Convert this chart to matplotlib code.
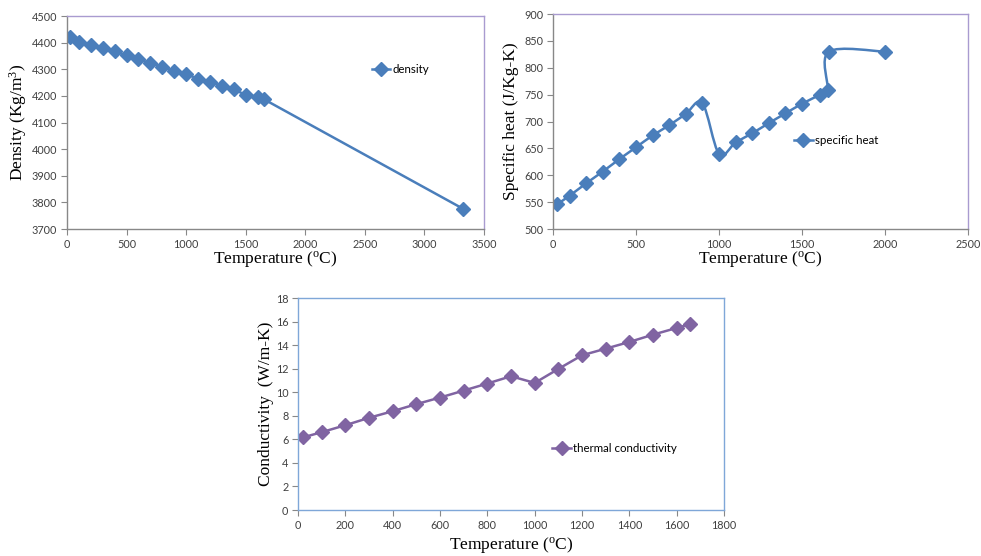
import numpy as np
import matplotlib.pyplot as plt
from matplotlib.path import Path
from matplotlib.patches import PathPatch
from matplotlib.lines import Line2D

plt.rcParams['mathtext.fontset'] = 'custom'
plt.rcParams['mathtext.rm'] = 'Liberation Serif'
plt.rcParams['mathtext.it'] = 'Liberation Serif:italic'

# density
dens_T = [25, 100, 200, 300, 400, 500, 600, 700, 800, 900, 1000, 1100, 1200,
          1300, 1400, 1500, 1600, 1650, 3320]
dens_v = [4421, 4403, 4393, 4380, 4367, 4352, 4337, 4323, 4309, 4293, 4282,
          4264, 4252, 4238, 4224, 4204, 4196, 4188, 3777]

# specific heat
cp_T = [25, 100, 200, 300, 400, 500, 600, 700, 800, 900, 1000, 1100, 1200,
        1300, 1400, 1500, 1610, 1655, 1662, 2000]
cp_v = [546, 562, 585, 607, 630, 652, 674, 693, 714, 734, 640, 661, 678,
        697, 715, 733, 750, 758, 830, 830]

# thermal conductivity
k_T = [20, 100, 200, 300, 400, 500, 600, 700, 800, 900, 1000, 1100, 1200,
       1300, 1400, 1500, 1600, 1655]
k_v = [6.16, 6.61, 7.2, 7.83, 8.39, 8.99, 9.55, 10.14, 10.74, 11.36, 10.79,
       11.98, 13.14, 13.7, 14.27, 14.89, 15.46, 15.77]

BLUE = '#4A7EBB'
PURPLE = '#8064A2'
FRAME_P = '#A99BD0'
FRAME_B = '#7FA7D8'
GRAY = '#888888'
TICKC = '#404040'
serif = 'Liberation Serif'
tfont = 'Lato'
xlab = 'Temperature ($\\mathrm{^{o}}$C)'
MS = 7.3


def smooth_path(x, y):
    # excel style smoothed line: bezier segments through the points
    x = np.asarray(x, float)
    y = np.asarray(y, float)
    p = np.column_stack([x, y])
    n = len(p)
    verts = [p[0]]
    codes = [Path.MOVETO]
    for i in range(n - 1):
        p0 = p[i - 1] if i > 0 else p[i]
        p3 = p[i + 2] if i + 2 < n else p[i + 1]
        c1 = p[i] + (p[i + 1] - p0) / 6.0
        c2 = p[i + 1] - (p3 - p[i]) / 6.0
        verts += [c1, c2, p[i + 1]]
        codes += [Path.CURVE4] * 3
    return Path(verts, codes)


def style(ax, frame, left_bottom):
    for s in ['top', 'right']:
        ax.spines[s].set_color(frame)
    for s in ['left', 'bottom']:
        ax.spines[s].set_color(left_bottom)
    for s in ax.spines.values():
        s.set_linewidth(1.0)
    ax.tick_params(direction='out', length=4, width=0.8, color=GRAY,
                   labelsize=7.8, labelcolor=TICKC, pad=3)
    for lab in ax.get_xticklabels() + ax.get_yticklabels():
        lab.set_fontfamily(tfont)


fig = plt.figure(figsize=(9.81, 5.56), dpi=100)

# --- density ---
ax1 = fig.add_axes([0.0683, 0.5881, 0.4251, 0.3831])
ax1.plot(dens_T, dens_v, color=BLUE, lw=1.8, marker='D', ms=MS,
         mfc=BLUE, mec=BLUE, label='density')
ax1.set_xlim(0, 3500)
ax1.set_ylim(3700, 4500)
ax1.set_xticks(np.arange(0, 3501, 500))
ax1.set_yticks(np.arange(3700, 4501, 100))
style(ax1, FRAME_P, GRAY)
ax1.set_xlabel(xlab, fontfamily=serif, fontsize=12.5, labelpad=-0.5)
ax1.set_ylabel('Density (Kg/m$\\mathrm{^3}$)', fontfamily=serif,
               fontsize=12.5, labelpad=2)
ax1.legend(loc='upper left', bbox_to_anchor=(0.72, 0.795), frameon=False,
           prop={'family': tfont, 'size': 8.3}, handlelength=1.6,
           handletextpad=0.2, borderaxespad=0)

# --- specific heat ---
ax2 = fig.add_axes([0.5637, 0.5881, 0.4230, 0.3867])
ax2.add_patch(PathPatch(smooth_path(cp_T, cp_v), fc='none', ec=BLUE, lw=1.8,
                        capstyle='round', joinstyle='round'))
ax2.plot(cp_T, cp_v, ls='none', marker='D', ms=MS, mfc=BLUE, mec=BLUE)
ax2.set_xlim(0, 2500)
ax2.set_ylim(500, 900)
ax2.set_xticks(np.arange(0, 2501, 500))
ax2.set_yticks(np.arange(500, 901, 50))
style(ax2, FRAME_P, GRAY)
ax2.set_xlabel(xlab, fontfamily=serif, fontsize=12.5, labelpad=-0.5)
ax2.set_ylabel('Specific heat (J/Kg-K)', fontfamily=serif, fontsize=12.5,
               labelpad=4)
h2 = Line2D([], [], color=BLUE, lw=1.8, marker='D', ms=MS, mfc=BLUE, mec=BLUE)
ax2.legend([h2], ['specific heat'], loc='upper left',
           bbox_to_anchor=(0.57, 0.46), frameon=False,
           prop={'family': tfont, 'size': 8.3}, handlelength=1.6,
           handletextpad=0.2, borderaxespad=0)

# --- conductivity ---
ax3 = fig.add_axes([0.3038, 0.0827, 0.4343, 0.3813])
ax3.plot(k_T, k_v, color=PURPLE, lw=1.8, marker='D', ms=MS,
         mfc=PURPLE, mec=PURPLE, label='thermal conductivity')
ax3.set_xlim(0, 1800)
ax3.set_ylim(0, 18)
ax3.set_xticks(np.arange(0, 1801, 200))
ax3.set_yticks(np.arange(0, 19, 2))
style(ax3, FRAME_B, FRAME_B)
ax3.set_xlabel(xlab, fontfamily=serif, fontsize=12.5, labelpad=3)
ax3.set_ylabel('Conductivity  (W/m-K)', fontfamily=serif, fontsize=12.5,
               labelpad=1)
ax3.legend(loc='upper left', bbox_to_anchor=(0.586, 0.336), frameon=False,
           prop={'family': tfont, 'size': 8.3}, handlelength=1.6,
           handletextpad=0.2, borderaxespad=0)

fig.savefig('out.png', dpi=100)
